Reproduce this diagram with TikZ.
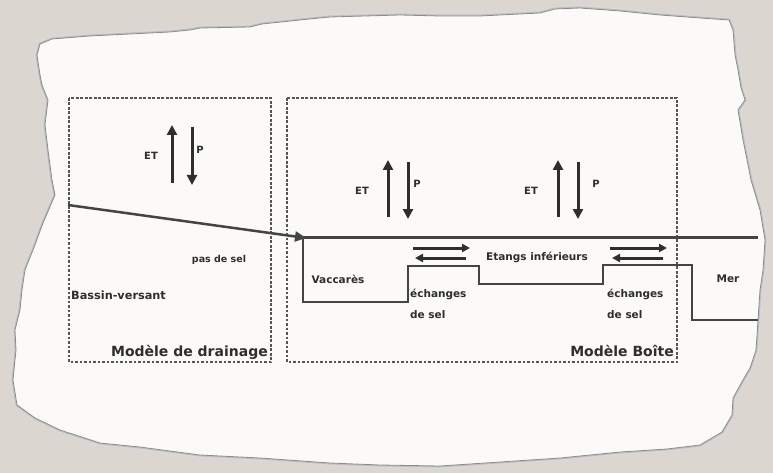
\documentclass[tikz,border=0pt]{standalone}
\usepackage{fontspec}
\setmainfont{DejaVu Sans}
\usetikzlibrary{arrows.meta}
\definecolor{bgc}{HTML}{DCD6D1}
\definecolor{paper}{HTML}{FBFAF7}
\definecolor{ink}{HTML}{2E2E2E}
\definecolor{lin}{HTML}{444444}
\definecolor{dashc}{HTML}{555555}
\tikzset{
  lbl/.style={font=\fontsize{10.5}{12}\selectfont\bfseries, text=ink, inner sep=0pt},
  big/.style={font=\fontsize{14}{16}\selectfont\bfseries, text=ink, inner sep=0pt},
  etp/.style={font=\fontsize{10}{11}\selectfont\bfseries, text=ink, inner sep=0pt},
  frame/.style={draw=dashc, line width=2.3pt, dash pattern=on 2.6pt off 1.9pt},
  water/.style={draw=lin, line width=2.5pt},
  flux/.style={draw=ink, line width=3pt, -{Triangle[length=10pt,width=10pt]}},
  xch/.style={draw=ink, line width=3pt, -{Triangle[length=8pt,width=8pt]}},
}
\begin{document}
\begin{tikzpicture}[x=1pt,y=-1pt]
\useasboundingbox (0,0) rectangle (773,473);
\fill[bgc] (0,0) rectangle (773,473);
% torn paper
\def\paperpath{(40,44) -- (52,39) -- (90,36) -- (130,34) -- (170,32) -- (190,30) -- (200,28) -- (250,27) -- (262,24) -- (300,20) -- (330,17) -- (400,15) -- (440,16) -- (480,16) -- (540,13) -- (555,9) -- (580,8) -- (620,11) -- (660,15) -- (700,18) -- (729,20) -- (733,30) -- (735,55) -- (738,70) -- (741,88) -- (745,100) -- (738,110) -- (743,140) -- (751,180) -- (760,210) -- (765,240) -- (763,270) -- (760,290) -- (758,320) -- (756,350) -- (750,368) -- (743,380) -- (733,398) -- (732,415) -- (722,432) -- (700,445) -- (667,449) -- (620,452) -- (560,458) -- (500,462) -- (440,466) -- (380,465) -- (330,463) -- (260,458) -- (200,455) -- (140,447) -- (100,443) -- (60,430) -- (35,418) -- (17,405) -- (13,380) -- (16,350) -- (15,330) -- (20,310) -- (22,290) -- (25,270) -- (33,250) -- (43,223) -- (55,195) -- (52,180) -- (48,150) -- (45,125) -- (48,100) -- (42,85) -- (40,75) -- (37,55) -- cycle}
\draw[line width=6pt, draw=black!15, line join=round] \paperpath;
\draw[line width=3pt, draw=black!25, line join=round] \paperpath;
\fill[paper] \paperpath;
\draw[line width=0.8pt, draw=black!45, line join=round] \paperpath;
% dashed frames
\draw[frame] (69,98) rectangle (271,362);
\draw[frame] (287,98) rectangle (677,362);
% water lines
\coordinate (s0) at (68,205);
\coordinate (s1) at (306,238);
\draw[water, -{Triangle[length=11pt,width=10pt]}] (s0) -- (s1);
\draw[water] (300,237.5) -- (758,237.5);
\draw[water, line join=miter] (303,238) -- (303,302) -- (408,302) -- (408,266) -- (479,266) -- (479,284) -- (603,284) -- (603,265) -- (692,265) -- (692,320) -- (758,320);
% ET / P arrows
\foreach \n/\xu/\xd/\yt/\yb in {a/172/192/125/183, b/388/408/160/217, c/558/578/160/217}{
  \coordinate (\n u0) at (\xu,\yb);
  \coordinate (\n u1) at (\xu,\yt);
  \coordinate (\n d0) at (\xd,\yt+2);
  \coordinate (\n d1) at (\xd,\yb+2);
  \draw[flux] (\n u0) -- (\n u1);
  \draw[flux] (\n d0) -- (\n d1);
}
\node[etp] (et1) at (151,156) {ET};
\node[etp] (p1) at (200,150) {P};
\node[etp] (et2) at (362,191) {ET};
\node[etp] (p2) at (417,184) {P};
\node[etp] (et3) at (531,191) {ET};
\node[etp] (p3) at (596,184) {P};
% exchange arrows
\coordinate (x1a) at (413,248); \coordinate (x1b) at (470,248);
\coordinate (x1c) at (466,258); \coordinate (x1d) at (415,258);
\draw[xch] (x1a) -- (x1b);
\draw[xch] (x1c) -- (x1d);
\coordinate (x2a) at (610,248); \coordinate (x2b) at (667,248);
\coordinate (x2c) at (663,258); \coordinate (x2d) at (612,258);
\draw[xch] (x2a) -- (x2b);
\draw[xch] (x2c) -- (x2d);
% labels
\node[lbl, font=\fontsize{9.5}{11}\selectfont\bfseries] (pds) at (219,260) {pas de sel};
\node[lbl, anchor=west, font=\fontsize{11.3}{13}\selectfont\bfseries] (bv) at (71,295) {Bassin-versant};
\node[lbl] (vac) at (338,279) {Vaccarès};
\node[lbl] (etg) at (537,257) {Etangs inférieurs};
\node[lbl] (mer) at (728,279) {Mer};
\node[lbl, anchor=north west, align=left, font=\fontsize{10.5}{21}\selectfont\bfseries] (ech1) at (410,289) {échanges\\de sel};
\node[lbl, anchor=north west, align=left, font=\fontsize{10.5}{21}\selectfont\bfseries] (ech2) at (607,289) {échanges\\de sel};
\node[big, anchor=base east] (md) at (268,356) {Modèle de drainage};
\node[big, anchor=base east] (mb) at (674,356) {Modèle Boîte};
\end{tikzpicture}
\end{document}
